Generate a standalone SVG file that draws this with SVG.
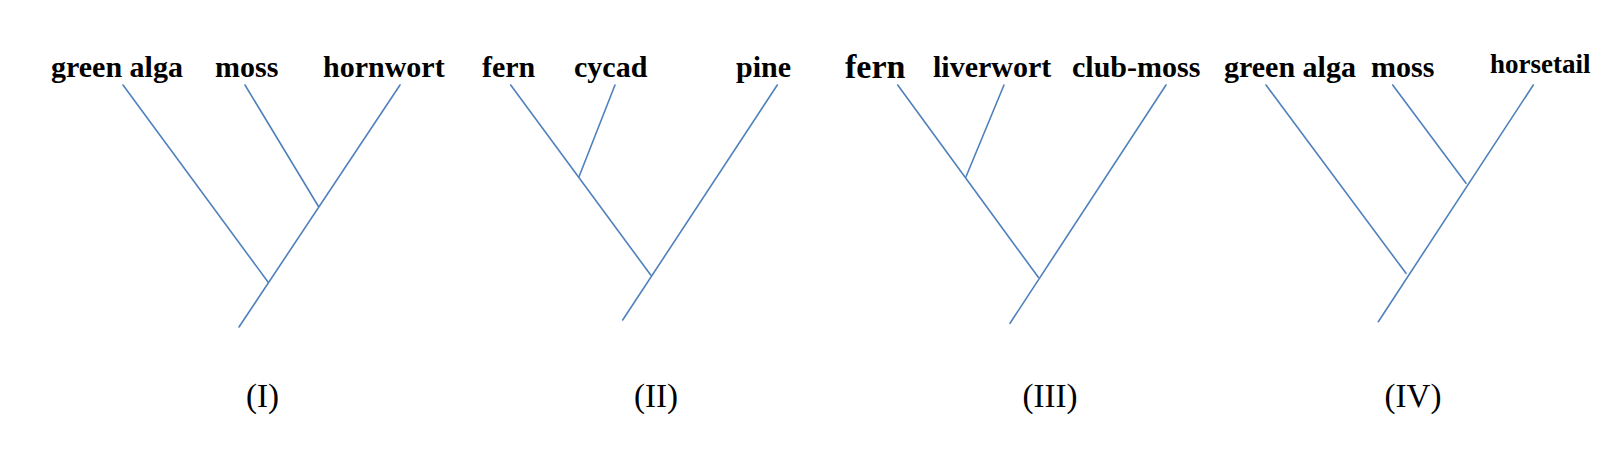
<svg xmlns="http://www.w3.org/2000/svg" width="1614" height="450" viewBox="0 0 1614 450">
<style>
.lbl{font-family:"Liberation Serif","Times New Roman",serif;font-weight:bold;font-size:30px;fill:#000}
.num{font-family:"Liberation Serif","Times New Roman",serif;font-size:33px;fill:#000;text-anchor:middle}
.br{stroke:#4f81bd;stroke-width:1.6;fill:none;stroke-linecap:round}
</style>
<rect width="1614" height="450" fill="#fff"/>
<g id="tree-I">
<text class="lbl" x="51" y="77">green alga</text>
<text class="lbl" x="215" y="77">moss</text>
<text class="lbl" x="323" y="77">hornwort</text>
<text class="num" x="262.5" y="407">(I)</text>
</g>
<g id="tree-II">
<text class="lbl" x="482" y="77">fern</text>
<text class="lbl" x="574" y="77">cycad</text>
<text class="lbl" x="736" y="77">pine</text>
<text class="num" x="656" y="407">(II)</text>
</g>
<g id="tree-III">
<text class="lbl" x="845" y="78" style="font-size:34px">fern</text>
<text class="lbl" x="933" y="77">liverwort</text>
<text class="lbl" x="1072" y="77">club-moss</text>
<text class="num" x="1050" y="407">(III)</text>
</g>
<g id="tree-IV">
<text class="lbl" x="1224" y="77">green alga</text>
<text class="lbl" x="1371" y="77">moss</text>
<text class="lbl" x="1490" y="73" style="font-size:27px">horsetail</text>
<text class="num" x="1413" y="407">(IV)</text>
</g>
<g id="connectors" class="br">
<line x1="123" y1="85" x2="268" y2="282"/>
<line x1="245" y1="85" x2="318.5" y2="206.5"/>
<line x1="400" y1="85" x2="239" y2="327"/>
<line x1="510.7" y1="85" x2="650.7" y2="275"/>
<line x1="615" y1="85" x2="579" y2="176.7"/>
<line x1="777.3" y1="85" x2="622.7" y2="320"/>
<line x1="897.7" y1="85" x2="1038.3" y2="277.3"/>
<line x1="1004" y1="85" x2="966" y2="176.7"/>
<line x1="1166" y1="85" x2="1010" y2="323.3"/>
<line x1="1266" y1="85" x2="1406" y2="273.3"/>
<line x1="1392.7" y1="85" x2="1466" y2="183.3"/>
<line x1="1533.3" y1="85" x2="1378.3" y2="321.7"/>
</g>
</svg>
